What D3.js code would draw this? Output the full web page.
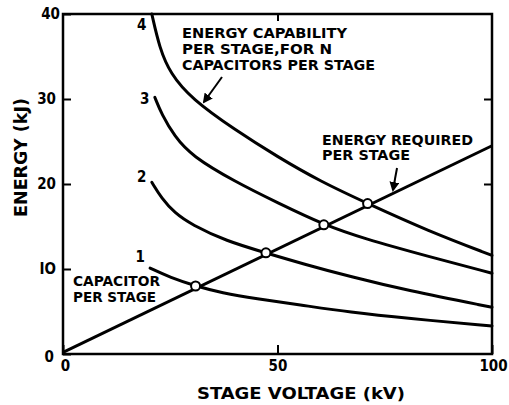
<!DOCTYPE html>
<html>
<head>
<meta charset="utf-8">
<script src="https://cdn.jsdelivr.net/npm/d3@7"></script>
<style>
  body { margin: 0; background: #fff; }
  text { font-family: "DejaVu Sans Condensed", "Liberation Sans", sans-serif; font-weight: bold; fill: #000; }
</style>
</head>
<body>
<div id="plot"></div>
<script>
// capability curves, N capacitors per stage: [stage voltage kV, energy kJ]
var cap1 = [[20.3, 10.1], [25, 9.0], [30.9, 8.0], [37, 7.2], [45, 6.5], [55, 5.8], [67, 4.9], [80, 4.2], [100, 3.3]];
var cap2 = [[20.7, 20.2], [23, 18.3], [26, 16.6], [30, 15.2], [38, 13.3], [47.3, 11.9], [56, 10.6], [67, 9.1], [80, 7.5], [100, 5.5]];
var cap3 = [[21.4, 30.2], [23, 28.2], [26, 25.6], [30, 23.3], [40, 20.3], [50, 17.8], [60.8, 15.2], [70, 13.6], [85, 11.5], [100, 9.5]];
var cap4 = [[20.7, 40], [22.5, 36], [25, 33], [30, 30], [40, 26.4], [50, 23.2], [60, 20.3], [71, 17.7], [85, 14.5], [100, 11.6]];
var required = [[0, 0.2], [100, 24.5]];
var crossings = [[30.9, 8.0], [47.3, 11.9], [60.8, 15.2], [71.0, 17.7]];
var curveNames = ["1", "2", "3", "4"];
var yTicks = [0, 10, 20, 30, 40];
var yTickLabels = ["0", "IO", "20", "30", "40"];
var xTicks = [0, 50, 100];

var width = 509, height = 405;
var margin = { top: 14, right: 17, bottom: 51, left: 63 };

var svg = d3.select("#plot").append("svg")
    .attr("width", width)
    .attr("height", height);

var x = d3.scaleLinear().domain([0, 100]).range([margin.left, width - margin.right]);
var y = d3.scaleLinear().domain([0, 40]).range([height - margin.bottom, margin.top]);

// left axis, ticks pointing into the plot
var leftAxis = svg.append("g")
    .attr("transform", "translate(" + x(0) + ",0)")
    .call(d3.axisLeft(y).tickValues(yTicks).tickSize(-8).tickPadding(7)
        .tickFormat(function(d, i) { return yTickLabels[i]; }));
leftAxis.select(".domain").remove();
leftAxis.selectAll(".tick line").attr("stroke", "#000").attr("stroke-width", 2);
leftAxis.selectAll(".tick text").style("font-size", "15px").attr("fill", "#000");
leftAxis.selectAll(".tick").filter(function(d) { return d == 40; }).select("text").attr("dx", 4);
leftAxis.selectAll(".tick").filter(function(d) { return d == 0; }).select("text").attr("dx", -2).attr("dy", "0.5em");

var rightAxis = svg.append("g")
    .attr("transform", "translate(" + x(100) + ",0)")
    .call(d3.axisRight(y).tickValues([20, 30]).tickSize(-8).tickFormat(""));
rightAxis.select(".domain").remove();
rightAxis.selectAll(".tick line").attr("stroke", "#000").attr("stroke-width", 2);

var bottomAxis = svg.append("g")
    .attr("transform", "translate(0," + y(0) + ")")
    .call(d3.axisBottom(x).tickValues(xTicks).tickSize(-9).tickPadding(6));
bottomAxis.select(".domain").remove();
bottomAxis.selectAll(".tick line").attr("stroke", "#000").attr("stroke-width", 2);
bottomAxis.selectAll(".tick text").style("font-size", "15px").attr("fill", "#000");
bottomAxis.selectAll(".tick").filter(function(d) { return d == 100; }).select("text").attr("dx", 1);
bottomAxis.selectAll(".tick").filter(function(d) { return d == 0; }).select("text").attr("dx", 2);

var topAxis = svg.append("g")
    .attr("transform", "translate(0," + y(40) + ")")
    .call(d3.axisTop(x).tickValues([50]).tickSize(-7).tickFormat(""));
topAxis.select(".domain").remove();
topAxis.selectAll(".tick line").attr("stroke", "#000").attr("stroke-width", 2);

// frame
svg.append("rect")
    .attr("x", x(0)).attr("y", y(40))
    .attr("width", x(100) - x(0)).attr("height", y(0) - y(40))
    .attr("fill", "none").attr("stroke", "#000").attr("stroke-width", 2.5);

var line = d3.line()
    .x(function(d) { return x(d[0]); })
    .y(function(d) { return y(d[1]); })
    .curve(d3.curveBasis);

var straight = d3.line()
    .x(function(d) { return x(d[0]); })
    .y(function(d) { return y(d[1]); });

[cap1, cap2, cap3, cap4].forEach(function(s) {
    svg.append("path")
        .datum(s)
        .attr("d", line)
        .attr("fill", "none")
        .attr("stroke", "#000")
        .attr("stroke-width", 3)
        .attr("stroke-linecap", "round");
});

svg.append("path")
    .datum(required)
    .attr("d", straight)
    .attr("fill", "none")
    .attr("stroke", "#000")
    .attr("stroke-width", 3);

svg.selectAll("circle.cross")
    .data(crossings)
    .enter().append("circle")
    .attr("class", "cross")
    .attr("cx", function(d) { return x(d[0]); })
    .attr("cy", function(d) { return y(d[1]); })
    .attr("r", 4.5)
    .attr("fill", "#fff")
    .attr("stroke", "#000")
    .attr("stroke-width", 2);

// curve numbers, left of where each curve starts
var numberShift = [-6, 0, 7, 16];
[cap1, cap2, cap3, cap4].forEach(function(s, i) {
    svg.append("text")
        .attr("x", x(s[0][0]) - 10)
        .attr("y", y(s[0][1]) + numberShift[i])
        .attr("text-anchor", "middle")
        .style("font-size", "15px")
        .text(curveNames[i]);
});

function block(lines, lengths, x0, y0, step) {
    lines.forEach(function(t, i) {
        svg.append("text")
            .attr("x", x0).attr("y", y0 + i * step)
            .attr("textLength", lengths[i])
            .attr("lengthAdjust", "spacingAndGlyphs")
            .style("font-size", "14px")
            .text(t);
    });
}

block(["ENERGY CAPABILITY", "PER STAGE,FOR N", "CAPACITORS PER STAGE"], [165, 150, 193], 182, 38, 16);
block(["ENERGY REQUIRED", "PER STAGE"], [151, 88], 322, 145, 15);
block(["CAPACITOR", "PER STAGE"], [87, 83], 73, 286, 16);

var arrows = [[[222, 77], [204, 102]], [[397, 168], [393, 190]]];
svg.append("defs").append("marker")
    .attr("id", "head").attr("viewBox", "0 0 10 10")
    .attr("refX", 8).attr("refY", 5)
    .attr("markerWidth", 5).attr("markerHeight", 5)
    .attr("orient", "auto")
    .append("path").attr("d", "M0,0L10,5L0,10z").attr("fill", "#000");
arrows.forEach(function(a) {
    svg.append("line")
        .attr("x1", a[0][0]).attr("y1", a[0][1])
        .attr("x2", a[1][0]).attr("y2", a[1][1])
        .attr("stroke", "#000").attr("stroke-width", 2)
        .attr("marker-end", "url(#head)");
});

svg.append("text")
    .attr("x", 197).attr("y", 399)
    .attr("textLength", 208)
    .attr("lengthAdjust", "spacingAndGlyphs")
    .style("font-size", "16px")
    .text("STAGE VOLTAGE (kV)");

svg.append("text")
    .attr("transform", "translate(27,217) rotate(-90)")
    .attr("textLength", 119)
    .attr("lengthAdjust", "spacingAndGlyphs")
    .style("font-size", "17px")
    .text("ENERGY (kJ)");
</script>
</body>
</html>
